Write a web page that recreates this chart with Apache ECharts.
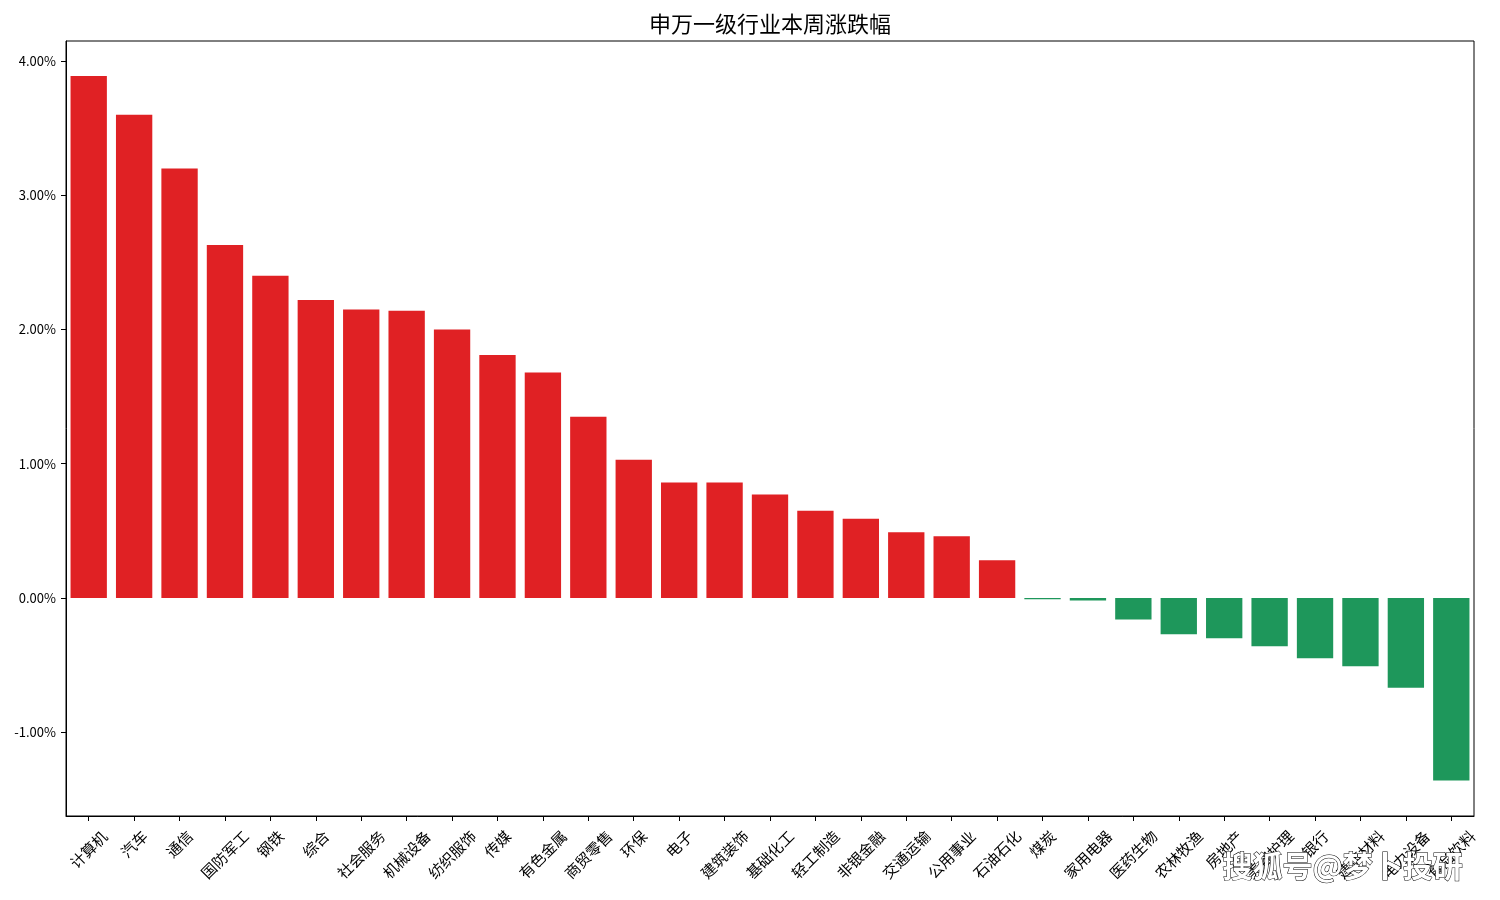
<!DOCTYPE html>
<html>
<head>
<meta charset="utf-8">
<script src="https://cdn.jsdelivr.net/npm/echarts@6/dist/echarts.min.js"></script>
<style>
  html, body { margin: 0; padding: 0; background: #fff; }
  #chart { width: 1500px; height: 900px; }
</style>
</head>
<body>
<div id="chart"></div>
<script>
const titleText = '申万一级行业本周涨跌幅';
const categories = ['计算机', '汽车', '通信', '国防军工', '钢铁', '综合', '社会服务', '机械设备', '纺织服饰', '传媒',
  '有色金属', '商贸零售', '环保', '电子', '建筑装饰', '基础化工', '轻工制造', '非银金融', '交通运输', '公用事业',
  '石油石化', '煤炭', '家用电器', '医药生物', '农林牧渔', '房地产', '美容护理', '银行', '建筑材料', '电力设备', '食品饮料'];
// weekly change, percent
const changes = [3.89, 3.60, 3.20, 2.63, 2.40, 2.22, 2.15, 2.14, 2.00, 1.81,
  1.68, 1.35, 1.03, 0.86, 0.86, 0.77, 0.65, 0.59, 0.49, 0.46,
  0.28, -0.01, -0.02, -0.16, -0.27, -0.30, -0.36, -0.45, -0.51, -0.67, -1.36];
const yTickValues = [-1, 0, 1, 2, 3, 4];
const watermarkText = '搜狐号@梦卜投研';

const UP = '#e02124';
const DOWN = '#1e975b';
const FONT = '"Noto Sans CJK SC", "Noto Sans", sans-serif';

const chart = echarts.init(document.getElementById('chart'), null, { renderer: 'canvas' });
chart.setOption({
  backgroundColor: '#fff',
  animation: false,
  title: {
    text: titleText,
    left: 649,
    top: 13,
    padding: 0,
    textStyle: { fontFamily: FONT, fontSize: 22, fontWeight: 'normal', color: '#000' }
  },
  grid: {
    left: 66, right: 26, top: 41, bottom: 84,
    show: true, borderColor: '#000', borderWidth: 1, backgroundColor: 'transparent'
  },
  xAxis: {
    type: 'category',
    data: categories,
    boundaryGap: true,
    axisLine: { show: true, onZero: false, lineStyle: { color: '#000', width: 1 } },
    axisTick: { show: true, alignWithLabel: true, length: 5, lineStyle: { color: '#000' } },
    axisLabel: {
      interval: 0,
      rotate: 45,
      align: 'center',
      verticalAlign: 'middle',
      margin: 28,
      fontFamily: FONT,
      fontSize: 15,
      color: '#000',
      formatter: function (v) {
        const n = v.length >= 4 ? 4 : (v.length === 3 ? 3 : 2);
        return '{l' + n + '|' + v + '}';
      },
      rich: {
        l2: { fontFamily: FONT, fontSize: 15, color: '#000' },
        l3: { fontFamily: FONT, fontSize: 15, color: '#000', padding: [8, 8, 0, 0] },
        l4: { fontFamily: FONT, fontSize: 15, color: '#000', padding: [15, 15, 0, 0] }
      }
    },
    splitLine: { show: false }
  },
  yAxis: {
    type: 'value',
    min: -1.625,
    max: 4.15,
    axisLine: { show: true, lineStyle: { color: '#000', width: 1 } },
    axisTick: { show: true, length: 5, lineStyle: { color: '#000' }, customValues: yTickValues },
    axisLabel: {
      customValues: yTickValues,
      margin: 10,
      fontFamily: FONT,
      fontSize: 13,
      color: '#000',
      formatter: function (v) { return v.toFixed(2) + '%'; }
    },
    splitLine: { show: false }
  },
  series: [{
    type: 'bar',
    data: changes,
    barCategoryGap: '20%',
    itemStyle: {
      color: function (p) { return p.value >= 0 ? UP : DOWN; }
    }
  }],
  graphic: [{
    type: 'text',
    left: 1222,
    top: 850,
    z: 100,
    style: {
      text: watermarkText,
      font: 'bold 30px "Noto Sans CJK SC", sans-serif',
      fill: '#fff',
      stroke: '#000',
      lineWidth: 1,
      shadowColor: '#000',
      shadowOffsetX: -2,
      shadowOffsetY: 2,
      shadowBlur: 0
    }
  }]
});
</script>
</body>
</html>
